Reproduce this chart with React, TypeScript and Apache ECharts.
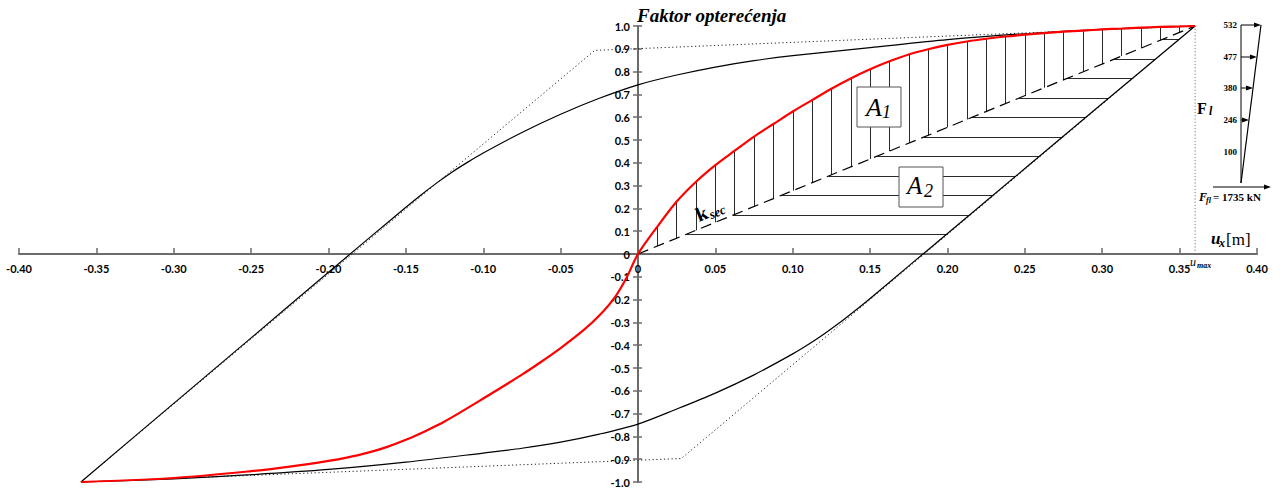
import React, { useEffect, useRef } from "react";
import * as echarts from "echarts";

// ---------- data ----------
// backbone (capacity) curve, red
const backboneU = [-0.36, -0.3, -0.25, -0.225, -0.2, -0.1875, -0.175, -0.1625, -0.15, -0.1375, -0.125, -0.1, -0.075, -0.0625, -0.05, -0.035, -0.025, -0.015, -0.0075, 0,
  0.0125, 0.025, 0.0375, 0.05, 0.0625, 0.075, 0.0875, 0.1, 0.1125, 0.125, 0.1375, 0.15, 0.1625, 0.175, 0.1875, 0.2,
  0.2125, 0.225, 0.2375, 0.25, 0.2625, 0.275, 0.2875, 0.3, 0.3125, 0.325, 0.3375, 0.35, 0.36];
const backboneF = [-1.0, -0.9825, -0.9525, -0.9325, -0.9075, -0.892, -0.8725, -0.847, -0.815, -0.777, -0.735, -0.634, -0.529, -0.4725, -0.4125, -0.333, -0.27, -0.19, -0.105, 0,
  0.12, 0.23, 0.317, 0.39, 0.453, 0.515, 0.57, 0.625, 0.675, 0.725, 0.77, 0.81, 0.845, 0.875, 0.898, 0.917,
  0.932, 0.944, 0.954, 0.962, 0.969, 0.975, 0.98, 0.985, 0.989, 0.993, 0.996, 0.998, 1.0];

// hysteresis loop, upper branch (loading from -u_max to +u_max)
const upperU = [-0.36, -0.3, -0.25, -0.2, -0.175, -0.15, -0.14, -0.13, -0.12, -0.11, -0.1, -0.075, -0.05, -0.025, 0, 0.025, 0.05, 0.075, 0.1, 0.15, 0.2, 0.25, 0.3, 0.36];
const upperF = [-1.0, -0.655, -0.368, -0.08, 0.063, 0.205, 0.26, 0.312, 0.36, 0.403, 0.443, 0.533, 0.613, 0.683, 0.742, 0.785, 0.82, 0.848, 0.87, 0.905, 0.94, 0.966, 0.985, 1.0];

// hysteresis loop, lower branch (unloading from +u_max to -u_max)
const lowerU = [0.36, 0.3, 0.25, 0.2, 0.175, 0.15, 0.14, 0.13, 0.12, 0.11, 0.1, 0.075, 0.05, 0.025, 0, -0.025, -0.05, -0.075, -0.1, -0.15, -0.2, -0.25, -0.3, -0.36];
const lowerF = [1.0, 0.66, 0.375, 0.09, -0.052, -0.195, -0.25, -0.303, -0.352, -0.397, -0.438, -0.53, -0.61, -0.68, -0.746, -0.79, -0.825, -0.852, -0.873, -0.913, -0.945, -0.968, -0.986, -1.0];

// bilinear idealisation (dotted)
const dotUpperU = [-0.36, -0.028, 0.36];
const dotUpperF = [-1.0, 0.893, 1.0];
const dotLowerU = [0.36, 0.028, -0.36];
const dotLowerF = [1.0, -0.897, -1.0];

// secant stiffness line
const secU = [0, 0.36];
const secF = [0, 1.0];

// u_max marker
const uMaxU = [0.36, 0.36];
const uMaxF = [0, 1.0];

// horizontal hatch levels of area A2
const hatchLevels = [0.0855, 0.171, 0.2565, 0.342, 0.4275, 0.513, 0.5985, 0.684, 0.7695, 0.855, 0.9405];

// inset: storey forces
const insetLabels = ["532", "477", "380", "246", "100"];
const insetHasArrow = [true, true, true, true, false];
const baseShear = "= 1735 kN";

// ---------- helpers ----------
const pairs = (u: number[], f: number[]) => u.map((x, i) => [x, f[i]]);
const xFmt = (v: number) => (Math.abs(v) < 1e-9 ? "0" : v.toFixed(2));
const yFmt = (v: number) => (Math.abs(v) < 1e-9 ? "0" : v.toFixed(1));

const W = 1280;
const H = 490;
const GRID = { left: 19, right: 23, top: 26, bottom: 8 };
const AXIS_GRAY = "#6b6b6b";
const SERIF = '"Liberation Serif", "Times New Roman", serif';
const SANS = 'Lato, "Open Sans", sans-serif';

export default function App() {
  const ref = useRef<HTMLDivElement>(null);

  useEffect(() => {
    if (!ref.current) return;
    const chart = echarts.init(ref.current, null, { renderer: "svg" });

    const secSlope = secF[1] / secU[1];
    // vertical hatch A1: from secant up to backbone
    const hatchV = backboneU
      .map((u, i) => ({ u, f: backboneF[i] }))
      .filter((p) => p.u > 0 && p.u < secU[1] - 0.005)
      .map((p) => ({ coords: [[p.u, p.u * secSlope], [p.u, p.f]] }));
    // horizontal hatch A2: from secant to the straight unloading part of the loop
    const uA = lowerU[0], fA = lowerF[0], uB = lowerU[2], fB = lowerF[2];
    const hatchH = hatchLevels.map((f) => ({
      coords: [[f / secSlope, f], [uB + ((f - fB) * (uA - uB)) / (fA - fB), f]],
    }));

    const plotW = W - GRID.left - GRID.right;
    const plotH = H - GRID.top - GRID.bottom;

    // inset layout
    const insetX = 1241;
    const insetTop = 25;
    const insetBottom = 183;
    const insetTopX = 1261;
    const insetRows = [25, 57, 88, 120, 152];
    const slantX = (y: number) => insetX + ((insetTopX - insetX) * (insetBottom - y)) / (insetBottom - insetTop);

    const arrowHead = (x: number, y: number) => ({
      type: "polygon",
      shape: { points: [[x, y], [x - 7, y - 2.5], [x - 7, y + 2.5]] },
      style: { fill: "#000" },
      z: 20,
    });

    const txt = (x: number, y: number, text: string, font: string, align = "left", extra: any = {}) => ({
      type: "text",
      x,
      y,
      z: 30,
      style: {
        text,
        font,
        fill: "#000",
        align,
        textAlign: align,
        verticalAlign: "middle",
        textVerticalAlign: "middle",
      },
      ...extra,
    });

    const insetEls: any[] = [
      { type: "line", shape: { x1: insetX, y1: insetTop, x2: insetX, y2: insetBottom }, style: { stroke: "#000", lineWidth: 1 }, z: 20 },
      { type: "line", shape: { x1: insetX, y1: insetBottom, x2: insetTopX, y2: insetTop }, style: { stroke: "#000", lineWidth: 1.2 }, z: 20 },
    ];
    insetLabels.forEach((lab, i) => {
      const y = insetRows[i];
      insetEls.push(txt(1237, y, lab, `bold 9px ${SERIF}`, "right"));
      if (insetHasArrow[i]) {
        const xe = slantX(y);
        insetEls.push({ type: "line", shape: { x1: insetX, y1: y, x2: xe - 5, y2: y }, style: { stroke: "#000", lineWidth: 1 }, z: 20 });
        insetEls.push(arrowHead(xe, y));
      }
    });
    // F_l label
    insetEls.push(txt(1197, 108, "F", `bold 16px ${SERIF}`));
    insetEls.push(txt(1209, 111, "l", `italic bold 12px ${SERIF}`));
    // base shear arrow
    insetEls.push({ type: "line", shape: { x1: 1213, y1: 187, x2: 1265, y2: 187 }, style: { stroke: "#000", lineWidth: 1 }, z: 20 });
    insetEls.push(arrowHead(1271, 187));
    insetEls.push(txt(1199, 197, "F", `italic bold 12px ${SERIF}`));
    insetEls.push(txt(1206, 200, "fl", `italic bold 8px ${SERIF}`));
    insetEls.push(txt(1213, 197, baseShear, `bold 11px ${SERIF}`));

    const graphic: any[] = [
      // title
      txt(637, 15, "Faktor opterećenja", `italic bold 19px ${SERIF}`),
      // A1 box
      { type: "rect", shape: { x: 857, y: 87, width: 44, height: 40 }, style: { fill: "#fff", stroke: "#555", lineWidth: 1 }, z: 25 },
      txt(866, 107, "A", `italic 26px ${SERIF}`),
      txt(882, 112, "1", `italic 18px ${SERIF}`),
      // A2 box
      { type: "rect", shape: { x: 899, y: 167, width: 44, height: 40 }, style: { fill: "#fff", stroke: "#555", lineWidth: 1 }, z: 25 },
      txt(907, 185, "A", `italic 25px ${SERIF}`),
      txt(924, 191, "2", `italic 18px ${SERIF}`),
      // k_sec
      {
        type: "group",
        x: 699,
        y: 222,
        rotation: (22 * Math.PI) / 180,
        z: 30,
        children: [
          txt(0, -7, "k", `bold 20px ${SERIF}`),
          txt(12.5, -2.5, "sec", `italic bold 13px ${SERIF}`),
        ],
      },
      // u_max
      txt(1190, 262, "u", `italic 12px ${SERIF}`),
      txt(1197, 265, "max", `italic bold 8px ${SERIF}`),
      // axis title u_x [m]
      txt(1211, 238, "u", `italic bold 17px ${SERIF}`),
      txt(1219, 243, "x", `italic bold 12px ${SERIF}`),
      txt(1226, 239, "[m]", `17px ${SERIF}`),
      ...insetEls,
    ];

    const option: any = {
      animation: false,
      backgroundColor: "#ffffff",
      grid: { ...GRID, containLabel: false, outerBoundsMode: "none" },
      xAxis: {
        type: "value",
        min: -0.4,
        max: 0.4,
        interval: 0.05,
        position: "bottom",
        offset: -plotH / 2,
        axisLine: { onZero: false, lineStyle: { color: AXIS_GRAY, width: 2 } },
        axisTick: { inside: true, length: 6, lineStyle: { color: AXIS_GRAY, width: 1.5 } },
        axisLabel: { margin: 9, formatter: xFmt, fontFamily: SANS, fontWeight: "bold", fontSize: 11, color: "#000" },
        splitLine: { show: false },
      },
      yAxis: [
        {
          type: "value",
          min: -1,
          max: 1,
          interval: 0.1,
          position: "left",
          offset: -plotW / 2,
          axisLine: { onZero: false, lineStyle: { color: AXIS_GRAY, width: 2 } },
          axisTick: { length: 5, lineStyle: { color: AXIS_GRAY, width: 1.5 } },
          axisLabel: { margin: 8, formatter: yFmt, fontFamily: SANS, fontWeight: "bold", fontSize: 11, color: "#000" },
          splitLine: { show: false },
        },
        {
          type: "value",
          min: -1,
          max: 1,
          interval: 0.1,
          position: "left",
          offset: -plotW / 2,
          axisLine: { show: false, onZero: false },
          axisTick: { inside: true, length: 4, lineStyle: { color: AXIS_GRAY, width: 1.5 } },
          axisLabel: { show: false },
          splitLine: { show: false },
        },
      ],
      series: [
        {
          type: "lines",
          coordinateSystem: "cartesian2d",
          data: hatchV,
          lineStyle: { color: "#2a2a2a", width: 1, opacity: 1, curveness: 0 },
          silent: true,
          z: 1,
        },
        {
          type: "lines",
          coordinateSystem: "cartesian2d",
          data: hatchH,
          lineStyle: { color: "#2a2a2a", width: 1, opacity: 1, curveness: 0 },
          silent: true,
          z: 1,
        },
        {
          type: "line",
          data: pairs(dotUpperU, dotUpperF),
          showSymbol: false,
          lineStyle: { color: "#222", width: 1, type: [1.2, 2.6] },
          silent: true,
          z: 2,
        },
        {
          type: "line",
          data: pairs(dotLowerU, dotLowerF),
          showSymbol: false,
          lineStyle: { color: "#222", width: 1, type: [1.2, 2.6] },
          silent: true,
          z: 2,
        },
        {
          type: "line",
          data: pairs(uMaxU, uMaxF),
          showSymbol: false,
          lineStyle: { color: "#777", width: 1, type: [1.2, 2] },
          silent: true,
          z: 2,
        },
        {
          type: "line",
          data: pairs(upperU, upperF),
          smooth: 0.3,
          showSymbol: false,
          lineStyle: { color: "#000", width: 1.2 },
          silent: true,
          z: 3,
        },
        {
          type: "line",
          data: pairs(lowerU, lowerF),
          smooth: 0.3,
          showSymbol: false,
          lineStyle: { color: "#000", width: 1.2 },
          silent: true,
          z: 3,
        },
        {
          type: "line",
          data: pairs(secU, secF),
          showSymbol: false,
          lineStyle: { color: "#000", width: 1.2, type: [11, 6] },
          silent: true,
          z: 3,
        },
        {
          type: "line",
          data: pairs(backboneU, backboneF),
          smooth: 0.3,
          showSymbol: false,
          lineStyle: { color: "#ff0000", width: 2.2 },
          silent: true,
          z: 5,
        },
      ],
      graphic,
    };

    chart.setOption(option);
    return () => chart.dispose();
  }, []);

  return <div ref={ref} style={{ position: "absolute", left: 0, top: 0, width: W, height: H, background: "#fff" }} />;
}
